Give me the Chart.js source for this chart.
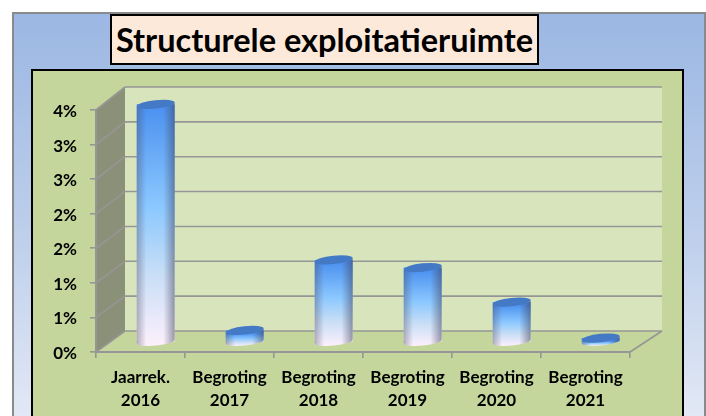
<!DOCTYPE html>
<html>
<head>
<meta charset="utf-8">
<script src="https://cdn.jsdelivr.net/npm/chart.js@4"></script>
<style>
  html, body { margin: 0; padding: 0; background: #fff; overflow: hidden; }
  #page { position: relative; width: 706px; height: 416px; overflow: hidden; }
  #outer { position: absolute; left: 12px; top: 12px; width: 690px; height: 420px; border: 2px solid #8a8a8a;
           background: linear-gradient(#9bb7e3, #c0d0ec 55%, #e6ebf6); }
  #inner { position: absolute; left: 31px; top: 69px; width: 649px; height: 360px; border: 2px solid #000; background: #c4d69b; }
  #title { position: absolute; left: 110px; top: 14px; width: 425px; height: 47px; border: 2px solid #000; background: #fde9d9;
           font: bold 32.5px Lato, sans-serif; line-height: 48px; text-align: center; color: #000; white-space: nowrap; }
  canvas { position: absolute; left: 0; top: 0; }
</style>
</head>
<body>
<div id="page">
  <div id="outer"></div>
  <div id="inner"></div>
  <div id="title">Structurele exploitatieruimte</div>
  <canvas id="chart" width="706" height="416"></canvas>
</div>
<script>
const categories = [["Jaarrek.", "2016"], ["Begroting", "2017"], ["Begroting", "2018"], ["Begroting", "2019"], ["Begroting", "2020"], ["Begroting", "2021"]];
const ruimte = [3.44, 0.17, 1.19, 1.08, 0.58, 0.06];
const yMax = 3.5;
const yStep = 0.5;

// 3D look: back wall sits behind the front axes and is a touch larger, the bars stand halfway
const depthX = 29;
const depthY = -21;
const backScaleX = 537 / 534;
const backScaleY = 244 / 242;

function line(ctx, x1, y1, x2, y2) {
  ctx.beginPath();
  ctx.moveTo(x1, y1);
  ctx.lineTo(x2, y2);
  ctx.stroke();
}

function capPath(ctx, x, y, rx) {
  ctx.beginPath();
  ctx.ellipse(x, y, rx, 4.2, -6 * Math.PI / 180, 0, Math.PI * 2);
}

const box3d = {
  id: "box3d",
  beforeDraw(chart) {
    const { ctx, chartArea: a, scales: { y } } = chart;
    const backLeft = a.left + depthX;
    const backRight = backLeft + (a.right - a.left) * backScaleX;
    const backBottom = a.bottom + depthY;
    const backY = (py) => backBottom - (a.bottom - py) * backScaleY;
    ctx.save();
    // achterwand
    ctx.fillStyle = "#d8e4bc";
    ctx.fillRect(backLeft, backY(a.top), backRight - backLeft, backBottom - backY(a.top));
    // zijwand
    ctx.fillStyle = "#8b9179";
    ctx.beginPath();
    ctx.moveTo(a.left, a.top);
    ctx.lineTo(backLeft, backY(a.top));
    ctx.lineTo(backLeft, backBottom);
    ctx.lineTo(a.left, a.bottom);
    ctx.closePath();
    ctx.fill();
    // vloer
    ctx.fillStyle = "#c4d69b";
    ctx.beginPath();
    ctx.moveTo(a.left, a.bottom);
    ctx.lineTo(backLeft, backBottom);
    ctx.lineTo(backRight, backBottom);
    ctx.lineTo(a.right, a.bottom);
    ctx.closePath();
    ctx.fill();
    ctx.strokeStyle = "#969696";
    ctx.lineWidth = 1.6;
    y.ticks.forEach((t) => {
      const py = y.getPixelForValue(t.value);
      line(ctx, a.left, py, backLeft, backY(py));
      line(ctx, backLeft, backY(py), backRight, backY(py));
    });
    line(ctx, a.right, a.bottom, backRight, backBottom);
    ctx.restore();
  },
  beforeDatasetsDraw(chart) {
    chart.ctx.save();
    chart.ctx.translate(depthX / 2 + 0.7, depthY / 2 + 0.7);
  },
  afterDatasetsDraw(chart) {
    const ctx = chart.ctx;
    chart.getDatasetMeta(0).data.forEach((bar) => {
      const rx = bar.width / 2;
      const left = bar.x - rx;
      const slope = rx * Math.tan(6 * Math.PI / 180);
      // cilinder: onderkant rond, randen donkerder
      const edge = ctx.createLinearGradient(left, 0, left + bar.width, 0);
      edge.addColorStop(0, "rgba(70,70,95,0.38)");
      edge.addColorStop(0.25, "rgba(70,70,95,0)");
      edge.addColorStop(0.7, "rgba(70,70,95,0)");
      edge.addColorStop(1, "rgba(60,60,85,0.5)");

      ctx.fillStyle = bar.options.backgroundColor;
      capPath(ctx, bar.x, bar.base, rx);
      ctx.fill();

      ctx.fillStyle = edge;
      ctx.beginPath();
      ctx.moveTo(left, bar.y + slope);
      ctx.lineTo(left, bar.base + slope);
      ctx.ellipse(bar.x, bar.base, rx, 4.2, -6 * Math.PI / 180, Math.PI, 0, true);
      ctx.lineTo(left + bar.width, bar.y - slope);
      ctx.closePath();
      ctx.fill();

      ctx.fillStyle = "#4479c6";
      capPath(ctx, bar.x, bar.y, rx);
      ctx.fill();
    });
    ctx.restore();
  },
};

new Chart(document.getElementById("chart"), {
  type: "bar",
  data: {
    labels: categories,
    datasets: [
      {
        label: "Structurele exploitatieruimte",
        data: ruimte,
        categoryPercentage: 1,
        barPercentage: 38 / 89,
        borderWidth: 0,
        backgroundColor: (c) => {
          const y = c.chart.scales.y;
          const top = y ? y.getPixelForValue(ruimte[c.dataIndex]) : NaN;
          const bottom = y ? y.getPixelForValue(0) : NaN;
          if (!Number.isFinite(top) || !Number.isFinite(bottom)) return "#4f94ec";
          const g = c.chart.ctx.createLinearGradient(0, top + 3, 0, bottom + 4);
          g.addColorStop(0, "#4c92f0");
          g.addColorStop(0.42, "#8cc8ff");
          g.addColorStop(0.7, "#c8def6");
          g.addColorStop(1, "#fdf0fc");
          return g;
        },
      },
    ],
  },
  options: {
    responsive: false,
    animation: false,
    layout: { padding: { left: 0, top: 110, right: 76, bottom: 0 } },
    plugins: { legend: { display: false }, title: { display: false }, tooltip: { enabled: false } },
    scales: {
      x: {
        afterFit: (s) => { s.height = 64; },
        border: { color: "#969696", width: 2 },
        grid: { drawOnChartArea: false, drawTicks: true, tickLength: 6, tickColor: "#969696", lineWidth: 1.6 },
        ticks: { color: "#000", font: { family: "Lato, sans-serif", weight: "bold", size: 17, lineHeight: 1.36 }, padding: 8, maxRotation: 0, autoSkip: false },
      },
      y: {
        min: 0,
        max: yMax,
        afterFit: (s) => { s.width = 96; },
        border: { color: "#969696", width: 2 },
        grid: { drawOnChartArea: false, drawTicks: true, tickLength: 6, tickColor: "#969696", lineWidth: 1.6 },
        ticks: {
          stepSize: yStep,
          color: "#000",
          padding: 13,
          labelOffset: 1.5,
          font: { family: "Lato, sans-serif", weight: "bold", size: 17 },
          callback: (v) => Math.round(v) + "%",
        },
      },
    },
  },
  plugins: [box3d],
});
</script>
</body>
</html>
